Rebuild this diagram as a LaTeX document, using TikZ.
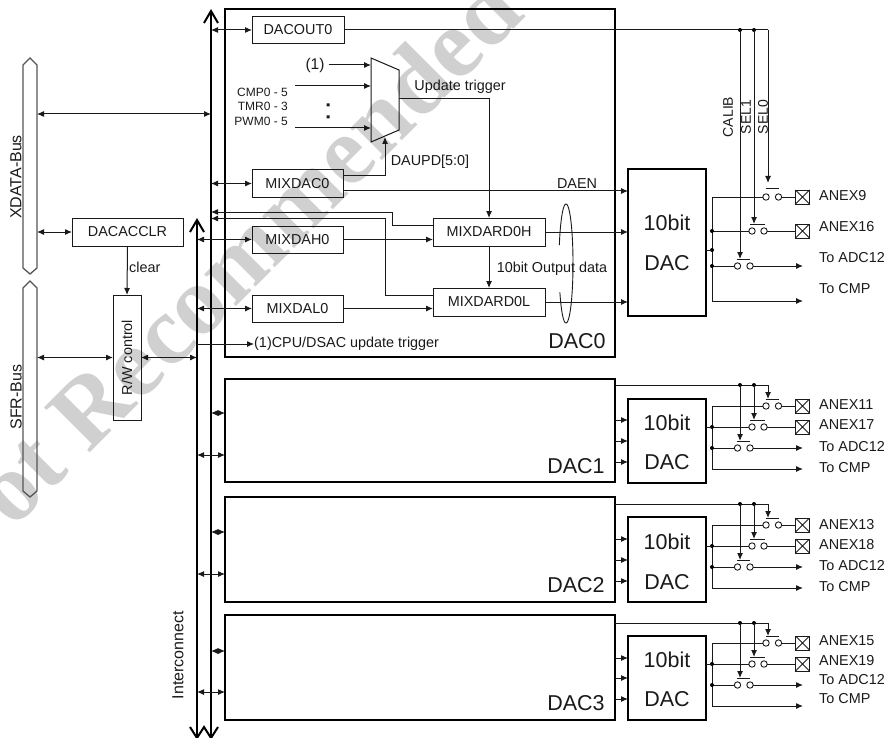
\documentclass[tikz,border=0pt]{standalone}
\usepackage{fontspec}
\setmainfont{Liberation Sans}
\newfontfamily\wmfont{Liberation Serif}
\usetikzlibrary{arrows.meta,calc}
\definecolor{ink}{HTML}{1A1A1A}
\definecolor{wm}{HTML}{D0D0D0}
\definecolor{busline}{HTML}{555555}
\newcommand{\fs}[1]{\fontsize{#1}{#1}\selectfont}
\tikzset{
  >={Latex[length=7pt,width=6pt]},
  conn/.style={line width=1pt,draw=ink},
  box/.style={draw=ink,line width=1pt,outer sep=0pt,inner sep=0pt,text=ink,font=\fs{14.4}},
  heavy/.style={draw=black,line width=2pt,outer sep=0pt,inner sep=0pt},
  lbl/.style={inner sep=0pt,text=ink,font=\fs{14.4}},
  biglbl/.style={inner sep=0pt,text=ink,font=\fs{21.5}},
  buslbl/.style={inner sep=0pt,text=ink,font=\fs{16},rotate=90},
  contact/.style={circle,draw=ink,line width=0.9pt,fill=white,minimum size=6.4pt,inner sep=0pt,outer sep=0pt},
  pin/.style={rectangle,draw=ink,line width=0.9pt,minimum size=14pt,inner sep=0pt,outer sep=0pt,
    path picture={\draw[ink,line width=0.8pt] (path picture bounding box.north west)--(path picture bounding box.south east)
      (path picture bounding box.north east)--(path picture bounding box.south west);}},
  hexbus/.style={draw=busline,line width=1.3pt},
  busV/.style={line width=2pt,draw=black},
}
\begin{document}
\begin{tikzpicture}[x=1pt,y=-1pt]
\useasboundingbox (0,0) rectangle (888,738);
\clip (0,0) rectangle (888,738);
% watermark
\node[rotate=45,inner sep=0pt,text=wm,font=\wmfont\bfseries\fs{98}] (watermark) at (246.5,249) {ot Recommended};
% bus rails
\coordinate (busA) at (211,0);
\coordinate (busB) at (197,0);
\draw[busV] (busA |- 0,11) -- (busA |- 0,737);
\draw[busV] (busB |- 0,220) -- (busB |- 0,737);
\draw[busV,line join=miter] (204,23) -- (busA |- 0,11) -- (218,23);
\draw[busV,line join=miter] (190,232) -- (busB |- 0,220) -- (204,232);
\draw[busV] (190,727) -- (busB |- 0,738) -- (204,727) -- (busA |- 0,738) -- (218,727);
% hex buses
\draw[hexbus] (23,268) -- (23,65) -- (30,58) -- (37,65) -- (37,268) -- (30,274) -- cycle;
\draw[hexbus] (23,491) -- (23,288) -- (30,281) -- (37,288) -- (37,491) -- (30,497) -- cycle;
\coordinate (xbus) at (37,0);
\coordinate (sbus) at (37,0);
\node[buslbl] (xlabel) at (16,177) {XDATA-Bus};
\node[buslbl] (slabel) at (16,397) {SFR-Bus};
\node[buslbl] (iclabel) at (178,655) {Interconnect};
% left-hand boxes
\node[box,minimum width=111pt,minimum height=28pt] (clr) at (127.5,232) {DACACCLR};
\node[box,minimum width=28pt,minimum height=125pt] (rw) at (127,357.5) {\rotatebox{90}{R/W control}};
\draw[conn,<->] (xbus |- 0,114) -- (busA |- 0,114);
\draw[conn,<->] (xbus |- clr.west) -- (clr.west);
\draw[conn,->] (clr.south) -- (rw.north);
\node[lbl,anchor=west] (clearlbl) at (129,267) {clear};
\draw[conn,<->] (sbus |- rw.west) -- (rw.west);
\draw[conn,<->] (rw.east) -- (busB |- rw.east);
% DAC blocks
\node[heavy,draw,minimum width=390pt,minimum height=348pt] (block0) at (420,183) {};
\node[heavy,draw,minimum width=390pt,minimum height=103pt] (block1) at (420,430.5) {};
\node[heavy,draw,minimum width=390pt,minimum height=105pt] (block2) at (420,549.5) {};
\node[heavy,draw,minimum width=390pt,minimum height=105pt] (block3) at (420,667.5) {};
\node[biglbl] (name0) at (577,341) {DAC0};
\node[biglbl] (name1) at (576,466) {DAC1};
\node[biglbl] (name2) at (576,585) {DAC2};
\node[biglbl] (name3) at (576,703) {DAC3};
% converters
\node[heavy,draw,minimum width=78pt,minimum height=147pt] (conv0) at (667,242.5) {};
\node[heavy,draw,minimum width=78pt,minimum height=84pt] (conv1) at (667,441) {};
\node[heavy,draw,minimum width=78pt,minimum height=85pt] (conv2) at (667,559.5) {};
\node[heavy,draw,minimum width=78pt,minimum height=84pt] (conv3) at (667,678) {};
\foreach \n/\ya/\yb in {0/223/263,1/423/462,2/542/582,3/660/699}{
  \node[biglbl] (ten\n) at (667,\ya) {10bit};
  \node[biglbl] (dacw\n) at (667,\yb) {DAC};
}
% inner registers
\node[box,minimum width=92pt,minimum height=27pt] (dacout) at (298,30) {DACOUT0};
\node[box,minimum width=91pt,minimum height=27pt] (mixdac) at (297.5,183.5) {MIXDAC0};
\node[box,minimum width=91pt,minimum height=27pt] (mixdah) at (297.5,239.5) {MIXDAH0};
\node[box,minimum width=91pt,minimum height=27pt] (mixdal) at (297.5,308.5) {MIXDAL0};
\node[box,minimum width=112pt,minimum height=28pt] (ardh) at (489,232) {MIXDARD0H};
\node[box,minimum width=112pt,minimum height=28pt] (ardl) at (489,302) {MIXDARD0L};
% mux
\coordinate (muxA) at (371,58);
\coordinate (muxB) at (399,70);
\coordinate (muxC) at (399,130);
\coordinate (muxD) at (371,142);
\coordinate (muxOut) at (399,99);
\coordinate (muxSel) at (385,137);
\draw[conn] (muxA) -- (muxB) -- (muxC) -- (muxD) -- cycle;
\node[lbl,font=\fs{15.5}] (one) at (315,65) {(1)};
\draw[conn,->] (one.east) ++(4,0) -- (muxA |- one.east);
\node[lbl,anchor=east,font=\fs{12}] (cmp) at (288,92) {CMP0 - 5};
\node[lbl,anchor=east,font=\fs{12}] (tmr) at (288,106) {TMR0 - 3};
\node[lbl,anchor=east,font=\fs{12}] (pwm) at (288,121) {PWM0 - 5};
\coordinate (inCmp) at (295,86);
\coordinate (inPwm) at (295,128);
\draw[conn,->] (inCmp) -- (muxA |- inCmp);
\draw[conn,->] (inPwm) -- (muxA |- inPwm);
\fill[ink] (326.5,103.5) rectangle (329.5,106.5) (326.5,115.5) rectangle (329.5,118.5);
\node[lbl] (updlbl) at (460,87) {Update trigger};
\node[lbl] (daupdlbl) at (430,162) {DAUPD[5:0]};
\draw[conn,->] (muxOut) -| (ardh.north);
\draw[conn,->] ($(mixdac.east)+(0,-7.5)$) -| (muxSel);
% bus connections
\draw[conn,<->] (busA |- dacout.west) -- (dacout.west);
\draw[conn,<->] (busA |- mixdac.west) -- (mixdac.west);
\draw[conn,<->] (busB |- mixdah.west) -- (mixdah.west);
\draw[conn,<->] (busB |- mixdal.west) -- (mixdal.west);
\node[lbl,anchor=west] (cpulbl) at (254,344) {(1)CPU/DSAC update trigger};
\draw[conn,->] (busB |- cpulbl.west) -- (cpulbl.west);
\draw[conn,->] ($(ardh.west)+(0,-7)$) -- (392,225) -- (392,212) -- (busA |- 0,212);
\draw[conn,->] ($(ardl.west)+(0,-7)$) -- (385,295) -- (385,218.5) -- (busA |- 0,218.5);
\draw[conn,->] (mixdah.east) -- (ardh.west |- mixdah.east);
\draw[conn,->] (mixdal.east) -- (ardl.west |- mixdal.east);
\draw[conn,->] (ardh.south) -- (ardl.north);
\draw[conn,->] (ardh.east) -- (conv0.west |- ardh.east);
\draw[conn,->] (ardl.east) -- (conv0.west |- ardl.east);
\draw[conn,->] ($(mixdac.east)+(0,7.5)$) -- (conv0.west |- 0,191);
\node[lbl] (daenlbl) at (577,184) {DAEN};
\node[lbl] (outlbl) at (552,269) {10bit Output data};
% bundle ellipse
\draw[conn,line width=0.9pt] plot[domain=-90:90,samples=40,variable=\t,smooth] ({566+7*cos(\t)},{263.5+59.5*sin(\t)});
\draw[conn,line width=0.9pt] plot[domain=198:270,samples=20,variable=\t,smooth] ({566+7*cos(\t)},{263.5+59.5*sin(\t)});
\draw[conn,line width=0.9pt] plot[domain=90:151,samples=20,variable=\t,smooth] ({566+7*cos(\t)},{263.5+59.5*sin(\t)});
% DAC1..3 links
\foreach \n/\sa/\sb/\ia/\ib/\ic in {1/413/455/420/441/462,2/532/574/539/560/581,3/651/692/658/678/699}{
  \draw[conn,<->] (busA |- 0,\sa) -- (block\n.west |- 0,\sa);
  \draw[conn,<->] (busB |- 0,\sb) -- (block\n.west |- 0,\sb);
  \draw[conn,->] (block\n.east |- 0,\ia) -- (conv\n.west |- 0,\ia);
  \draw[conn,->] (block\n.east |- 0,\ib) -- (conv\n.west |- 0,\ib);
  \draw[conn,->] (block\n.east |- 0,\ic) -- (conv\n.west |- 0,\ic);
}
% control lines
\coordinate (ctl0) at (dacout.east);
\coordinate (ctl1) at (block1.east |- 0,385);
\coordinate (ctl2) at (block2.east |- 0,504);
\coordinate (ctl3) at (block3.east |- 0,623);
% output switches
\foreach \n/\top/\ra/\ba/\ta/\rb/\bb/\rc/\bc/\rd/\st/\la/\lb/\lc/\ld/\ana/\anb in {
  0/30/197/189/183/231/224/266/259/301/250/196/227/258/289/ANEX9/ANEX16,
  1/385/406/399/399/427/420/448/441/469/427/405/425/447/468/ANEX11/ANEX17,
  2/504/525/518/518/546/539/567/560/588/546/525/545/566/587/ANEX13/ANEX18,
  3/623/643/636/636/664/657/685/678/706/664/641/661/680/699/ANEX15/ANEX19}{
  \coordinate (tapC\n) at (740,\top);
  \coordinate (tapB\n) at (754,\top);
  \coordinate (tapA\n) at (768,\top);
  \draw[conn] (ctl\n) -- (tapA\n);
  \fill[black] (tapC\n) circle[radius=2pt] (tapB\n) circle[radius=2pt];
  \draw[conn,->] (tapA\n) -- (768,\ta);
  \draw[conn,->] (tapB\n) -- (754,\bb);
  \draw[conn,->] (tapC\n) -- (740,\bc);
  \draw[conn] (765.5,\ba) -- (778.5,\ba);
  \draw[conn] (750,\bb) -- (765,\bb);
  \draw[conn] (736.5,\bc) -- (749.5,\bc);
  \node[contact] (caa\n) at (766,\ra) {};
  \node[contact] (cab\n) at (778.5,\ra) {};
  \node[contact] (cba\n) at (752,\rb) {};
  \node[contact] (cbb\n) at (764,\rb) {};
  \node[contact] (cca\n) at (737.5,\rc) {};
  \node[contact] (ccb\n) at (750,\rc) {};
  \node[pin] (pina\n) at (802.5,\ra) {};
  \node[pin] (pinb\n) at (802.5,\rb) {};
  \coordinate (endc\n) at (803,\rc);
  \coordinate (endd\n) at (803,\rd);
  \coordinate (railTop\n) at (712,\ra);
  \coordinate (railEnd\n) at (712,\rd);
  \draw[conn] (caa\n.west) -- (railTop\n) -- (railEnd\n);
  \draw[conn,->] (railEnd\n) -- (endd\n);
  \draw[conn] (cab\n.east) -- (pina\n.west);
  \draw[conn] (cba\n.west) -- (712,\rb);
  \draw[conn] (cbb\n.east) -- (pinb\n.west);
  \draw[conn] (cca\n.west) -- (712,\rc);
  \draw[conn,->] (ccb\n.east) -- (endc\n);
  \fill[black] (712,\rb) circle[radius=2pt] (712,\rc) circle[radius=2pt] (712,\st) circle[radius=2pt];
  \draw[conn] (conv\n.east |- 0,\st) -- (712,\st);
  \node[lbl,anchor=west] (anxa\n) at (819,\la) {\ana};
  \node[lbl,anchor=west] (anxb\n) at (819,\lb) {\anb};
  \node[lbl,anchor=west] (toadc\n) at (819,\lc) {To ADC12};
  \node[lbl,anchor=west] (tocmp\n) at (819,\ld) {To CMP};
}
\node[lbl,rotate=90,font=\fs{14}] (calib) at (728,117) {CALIB};
\node[lbl,rotate=90,font=\fs{14}] (sela) at (746,117) {SEL1};
\node[lbl,rotate=90,font=\fs{14}] (selb) at (763,117) {SEL0};
\end{tikzpicture}
\end{document}
